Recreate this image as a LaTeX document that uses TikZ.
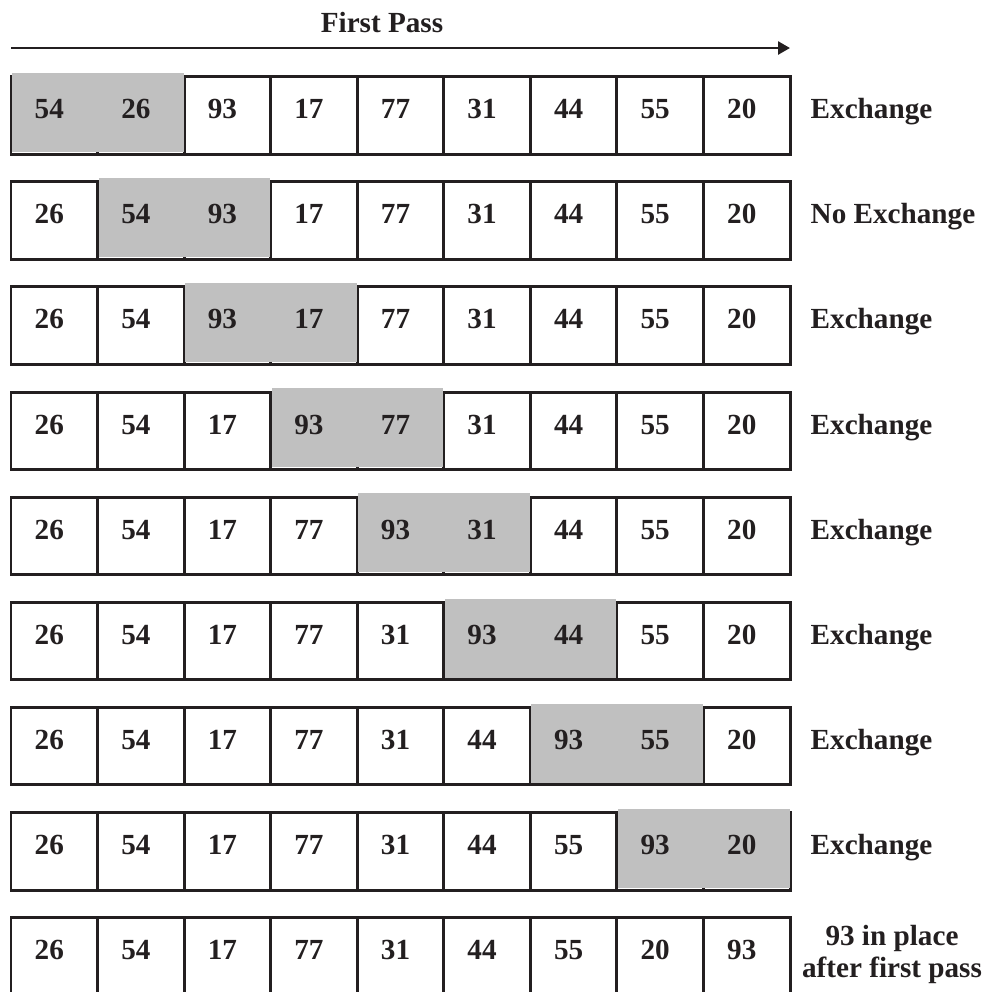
\documentclass[tikz,border=0pt]{standalone}
\usepackage{fontspec}
\setmainfont{Liberation Serif}
\usepackage{xcolor}
\usepackage{tikz}
\usetikzlibrary{arrows.meta, positioning}
\definecolor{inkblack}{RGB}{35, 31, 32}
\definecolor{swapgrey}{RGB}{192, 192, 192}

\begin{document}
\begin{tikzpicture}[
        cell/.style={rectangle, draw=inkblack, line width=0.85pt, minimum width=0.8656cm, minimum height=0.776cm, inner sep=0pt, outer sep=0pt},
        num/.style={font=\fontsize{8.3}{9.1}\selectfont\bfseries, text=inkblack, anchor=base, inner sep=0pt},
        verdictlbl/.style={font=\fontsize{8.3}{9.1}\selectfont\bfseries, text=inkblack, anchor=base west, inner sep=0pt},
        swapbox/.style={fill=swapgrey}
    ]
        \useasboundingbox (0,0) rectangle (9.86,-9.92);

        % Title and direction arrow
        \node[num] (title) at (3.82, -0.32) {First Pass};
        \coordinate (passstart) at (0.11, -0.48);
        \coordinate (passend) at (7.90, -0.48);
        \draw[-{Triangle[length=0.12cm, width=0.13cm]}, line width=0.75pt, color=inkblack] (passstart) -- (passend);

        % Compare-and-swap rows
        \foreach \vals/\verdict [count=\r] in {
            {54,26,93,17,77,31,44,55,20}/Exchange,
            {26,54,93,17,77,31,44,55,20}/No Exchange,
            {26,54,93,17,77,31,44,55,20}/Exchange,
            {26,54,17,93,77,31,44,55,20}/Exchange,
            {26,54,17,77,93,31,44,55,20}/Exchange,
            {26,54,17,77,31,93,44,55,20}/Exchange,
            {26,54,17,77,31,44,93,55,20}/Exchange,
            {26,54,17,77,31,44,55,93,20}/Exchange} {
            \pgfmathsetmacro{\rowy}{-(0.767+1.051*(\r-1)+0.388)}
            \foreach \v [count=\i] in \vals {
                \node[cell] (c-\r-\i) at ({0.11+0.8656*(\i-0.5)}, \rowy) {};
            }
            \pgfmathtruncatemacro{\nxt}{\r+1}
            \fill[swapbox] ([xshift=0.01cm, yshift=0.037cm]c-\r-\r.north west) rectangle ([xshift=-0.005cm, yshift=0.023cm]c-\r-\nxt.south east);
            \foreach \v [count=\i] in \vals {
                \node[num] (n-\r-\i) at ([xshift=-0.05cm, yshift=-0.032cm]c-\r-\i.center) {\v};
            }
            \node[verdictlbl] (verdict-\r) at ([xshift=0.2cm, yshift=-0.032cm]c-\r-9.east) {\verdict};
        }

        % Final row
        \foreach \v [count=\i] in {26,54,17,77,31,44,55,20,93} {
            \node[cell] (c-9-\i) at ({0.11+0.8656*(\i-0.5)}, -9.563) {};
            \node[num] (n-9-\i) at ([xshift=-0.05cm, yshift=-0.032cm]c-9-\i.center) {\v};
        }
        \node[num, anchor=north, align=center] (verdict-9) at (8.92, -9.245) {93 in place\\after first pass};
    \end{tikzpicture}
\end{document}
